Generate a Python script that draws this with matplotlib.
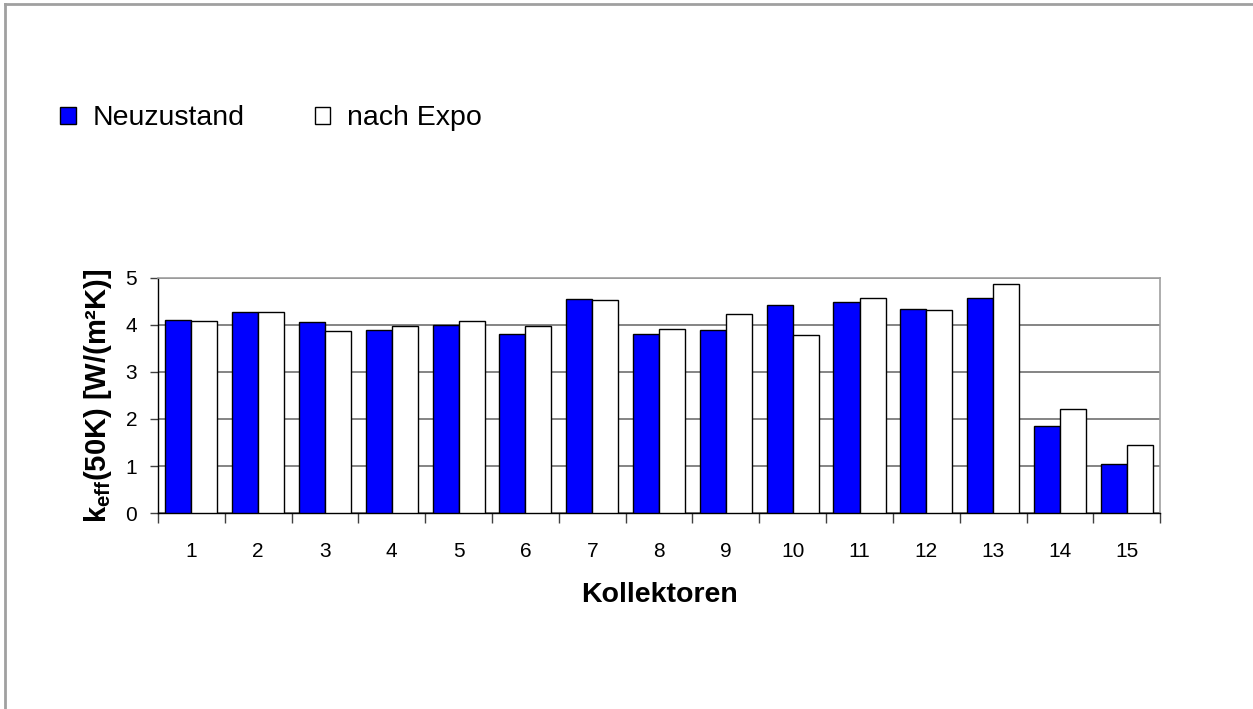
import matplotlib.pyplot as plt
import numpy as np
from matplotlib.lines import Line2D

plt.rcParams['font.family'] = ['Liberation Sans', 'DejaVu Sans']
plt.rcParams['mathtext.fontset'] = 'custom'
plt.rcParams['mathtext.rm'] = 'Liberation Sans'
plt.rcParams['mathtext.bf'] = 'Liberation Sans:bold'

kollektoren = np.arange(1, 16)
neuzustand = [4.11, 4.28, 4.06, 3.89, 4.00, 3.81, 4.55, 3.81, 3.89, 4.42, 4.48, 4.33, 4.58, 1.86, 1.05]
nach_expo = [4.08, 4.28, 3.87, 3.98, 4.08, 3.98, 4.53, 3.92, 4.23, 3.78, 4.58, 4.31, 4.87, 2.21, 1.44]

fig = plt.figure(figsize=(12.53, 7.09), dpi=100)
ax = fig.add_axes([0.126, 0.2764, 0.8, 0.3316])

w = 0.39
ax.bar(kollektoren - w / 2, neuzustand, w, color='#0000ff', edgecolor='black', linewidth=1, label='Neuzustand', zorder=3)
ax.bar(kollektoren + w / 2, nach_expo, w, color='white', edgecolor='black', linewidth=1, label='nach Expo', zorder=3)

ax.set_xlim(0.5, 15.5)
ax.set_ylim(0, 5)
ax.set_yticks(range(6))
ax.set_xticks(kollektoren)
ax.set_xticks(np.arange(0.5, 16, 1), minor=True)
ax.tick_params(axis='x', which='major', length=0, labelsize=15, pad=21)
ax.tick_params(axis='x', which='minor', length=7, width=1, color='#404040')
ax.tick_params(axis='y', length=6, width=1, labelsize=15, pad=9, color='#404040')

ax.yaxis.grid(True, color='#707070', linewidth=1.2, zorder=0)
ax.set_axisbelow(True)
for s in ['top', 'right']:
    ax.spines[s].set_color('#a0a0a0')
    ax.spines[s].set_linewidth(1.2)
for s in ['left', 'bottom']:
    ax.spines[s].set_color('black')
    ax.spines[s].set_linewidth(1)

ax.set_xlabel('Kollektoren', fontsize=20.5, fontweight='bold', labelpad=15)
ax.set_ylabel(r'k$_{\mathbf{eff}}$(50K) [W/(m²K)]', fontsize=21, fontweight='bold', labelpad=8)

fig.legend(loc='center left', bbox_to_anchor=(0.039, 0.833), ncol=2, frameon=False,
           fontsize=20.5, handlelength=0.55, handleheight=0.55, handletextpad=0.6,
           columnspacing=2.45, borderaxespad=0)

# grey border of the chart area
fig.add_artist(Line2D([0.0036, 0.0036], [0, 0.995], color='#a0a0a0', linewidth=2))
fig.add_artist(Line2D([0.0036, 1.0], [0.995, 0.995], color='#a0a0a0', linewidth=2))

fig.savefig('out.png', dpi=100)
